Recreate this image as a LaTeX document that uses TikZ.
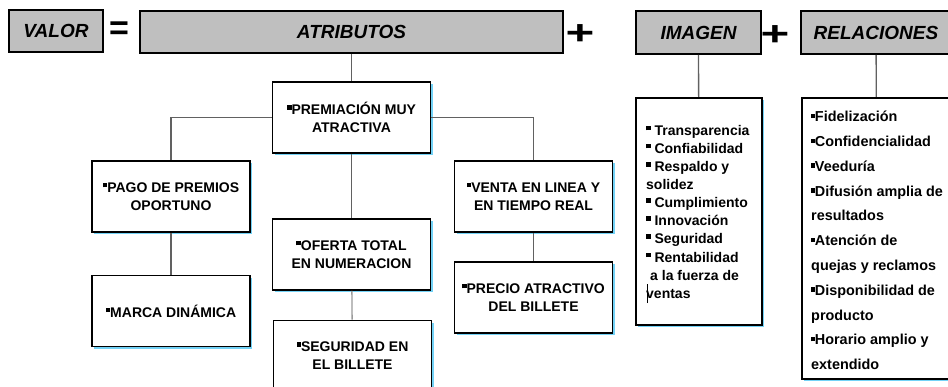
\documentclass[tikz,border=0pt]{standalone}
\usepackage{fontspec}
\setmainfont{Liberation Sans}
\usepackage{tikz}
\usetikzlibrary{positioning, shadows}

\newcommand{\sqb}{\rule[0.36em]{0.32em}{0.32em}}
\newcommand{\smb}{\rule[0.25em]{0.26em}{0.3em}}

\begin{document}
\begin{tikzpicture}[x=1pt,y=-1pt,
        title/.style={draw=black,line width=1.6pt,fill=black!25,
          font=\fontsize{19}{21}\selectfont\bfseries\itshape,
          minimum height=42pt,inner sep=0pt},
        attr/.style={draw=black,line width=1.8pt,fill=white,align=center,
          minimum width=158pt,minimum height=71pt,inner sep=0pt,
          font=\fontsize{14}{18}\selectfont\bfseries,
          drop shadow={shadow xshift=2.2pt,shadow yshift=-2.2pt,fill=cyan!55,opacity=1}},
        listbox/.style={attr,anchor=north west},
        listtext/.style={align=left,inner sep=0pt,anchor=north west},
        sign/.style={font=\fontsize{34}{34}\selectfont\bfseries,inner sep=0pt},
        conn/.style={draw=black!62,line width=1.3pt}]

        \useasboundingbox (0,0) rectangle (948,387);

        \node[title,minimum width=94pt] (valor) at (56,31) {VALOR};
        \node[sign] (eq) at (119,31) {=};
        \node[title,minimum width=423pt] (atrib) at (351.5,32) {ATRIBUTOS};
        \node[sign] (plus_1) at (580,35) {\scalebox{1.45}[1]{+}};
        \node[title,minimum width=125pt,minimum height=43pt] (imagen) at (698.5,32.5) {IMAGEN};
        \node[sign] (plus_2) at (775,36) {\scalebox{1.45}[1]{+}};
        \node[title,minimum width=150pt,minimum height=43pt] (relac) at (876,32.5) {RELACIONES};

        \node[attr] (prem) at (351.5,117.5) {\sqb PREMIACIÓN MUY\\ATRACTIVA};
        \node[attr] (pago) at (171,196.5) {\sqb PAGO DE PREMIOS\\OPORTUNO};
        \node[attr] (marca) at (171,311) {\sqb MARCA DINÁMICA};
        \node[attr] (oferta) at (351.5,254.5) {\sqb OFERTA TOTAL\\EN NUMERACION};
        \node[attr] (segur) at (352.5,356) {\sqb SEGURIDAD EN\\EL BILLETE};
        \node[attr] (venta) at (533.5,196.5) {\sqb VENTA EN LINEA Y\\EN TIEMPO REAL};
        \node[attr] (precio) at (533.5,297.5) {\sqb PRECIO ATRACTIVO\\DEL BILLETE};

        \node[listbox,minimum width=126pt,minimum height=227pt] (img_list) at (635,97) {};
        \node[listtext,font=\fontsize{14}{18.1}\selectfont\bfseries] (img_txt) at (646,125)
          {\sqb\ Transparencia\\ \sqb\ Confiabilidad\\ \sqb\ Respaldo y\\solidez\\
           \sqb\ Cumplimiento\\ \sqb\ Innovación\\ \sqb\ Seguridad\\ \sqb\ Rentabilidad\\
           \hspace{4pt}a la fuerza de\\\llap{\rule[-5pt]{0.8pt}{19pt}\kern-1.5pt}ventas};

        \node[listbox,minimum width=150pt,minimum height=281pt] (rel_list) at (801,97) {};
        \node[listtext,font=\fontsize{14.4}{24.8}\selectfont\bfseries] (rel_txt) at (811,111)
          {\smb Fidelización\\ \smb Confidencialidad\\ \smb Veeduría\\
           \smb Difusión amplia de\\resultados\\ \smb Atención de\\quejas y reclamos\\
           \smb Disponibilidad de\\producto\\ \smb Horario amplio y\\extendido};

        \draw[conn] (atrib) -- (prem);
        \draw[conn] (prem.west) -| (pago.north);
        \draw[conn] (prem.east) -| (venta.north);
        \draw[conn] (prem) -- (oferta);
        \draw[conn] (pago) -- (marca);
        \draw[conn,draw=black!40] (oferta) -- (segur);
        \draw[conn] (venta) -- (precio);
        \draw[conn] (imagen) -- (img_list);
        \draw[conn] (relac) -- (rel_list);
    \end{tikzpicture}
\end{document}
